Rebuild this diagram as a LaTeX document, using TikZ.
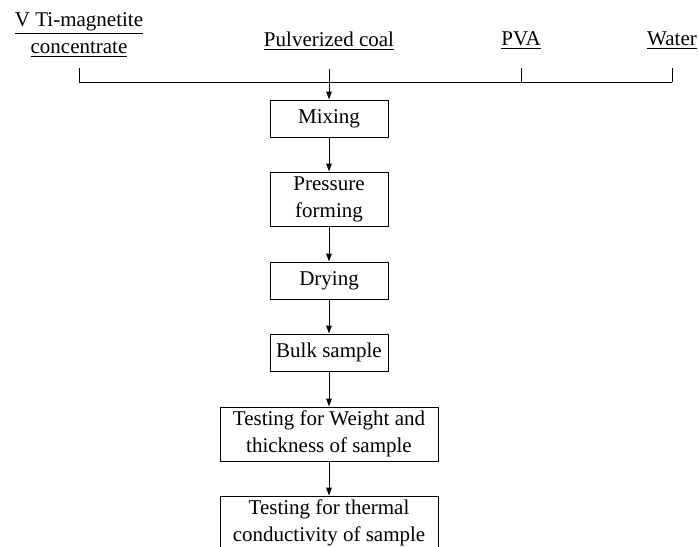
\documentclass[tikz,border=0pt]{standalone}
\usepackage{fontspec}
\setmainfont{Liberation Serif}
\usetikzlibrary{positioning, arrows.meta}

\begin{document}
\begin{tikzpicture}[
  x=0.5pt, y=-0.5pt,
  font=\fontsize{10.5}{13.5}\selectfont,
  feed/.style={inner sep=0pt, align=center},
  proc/.style={draw, line width=0.5pt, minimum width=59pt, minimum height=18.5pt,
               inner sep=1pt, align=center},
  tallproc/.style={proc, minimum height=27pt},
  wideproc/.style={tallproc, minimum width=109pt},
  bus/.style={line width=0.5pt},
  flow/.style={line width=0.5pt, -{Triangle[length=4pt, width=2.8pt]}},
]
  \useasboundingbox (0,0) rectangle (699,546);

  % Raw materials
  \node[feed] (vti) at (79,35) {\underline{V Ti-magnetite}\\\underline{concentrate}};
  \node[feed] (coal) at (329,41) {\underline{Pulverized coal}};
  \node[feed] (pva) at (521,41) {\underline{PVA}};
  \node[feed] (water) at (672,41) {\underline{Water}};

  % Collecting line
  \coordinate (bus-l) at (79,82);
  \coordinate (bus-r) at (672,82);
  \draw[bus] (bus-l) -- (bus-r);
  \draw[bus, shorten <=5pt] (vti.south) -- (vti.south |- bus-l);
  \draw[bus, shorten <=9pt] (pva.south) -- (pva.south |- bus-l);
  \draw[bus, shorten <=9pt] (water.south) -- (water.south |- bus-r);

  % Process steps
  \node[proc] (mix) at (329,118.5) {Mixing};
  \node[tallproc] (press) at (329,199) {Pressure\\forming};
  \node[proc] (dry) at (329,280.5) {Drying};
  \node[proc] (bulk) at (329,352.5) {Bulk sample};
  \node[wideproc] (weight) at (329,434) {Testing for Weight and\\thickness of sample};
  \node[wideproc] (thermal) at (329,523) {Testing for thermal\\conductivity of sample};

  \draw[flow, shorten <=9pt] (coal.south) -- (mix.north);
  \draw[flow] (mix) -- (press);
  \draw[flow] (press) -- (dry);
  \draw[flow] (dry) -- (bulk);
  \draw[flow] (bulk) -- (weight);
  \draw[flow] (weight) -- (thermal);
\end{tikzpicture}
\end{document}
